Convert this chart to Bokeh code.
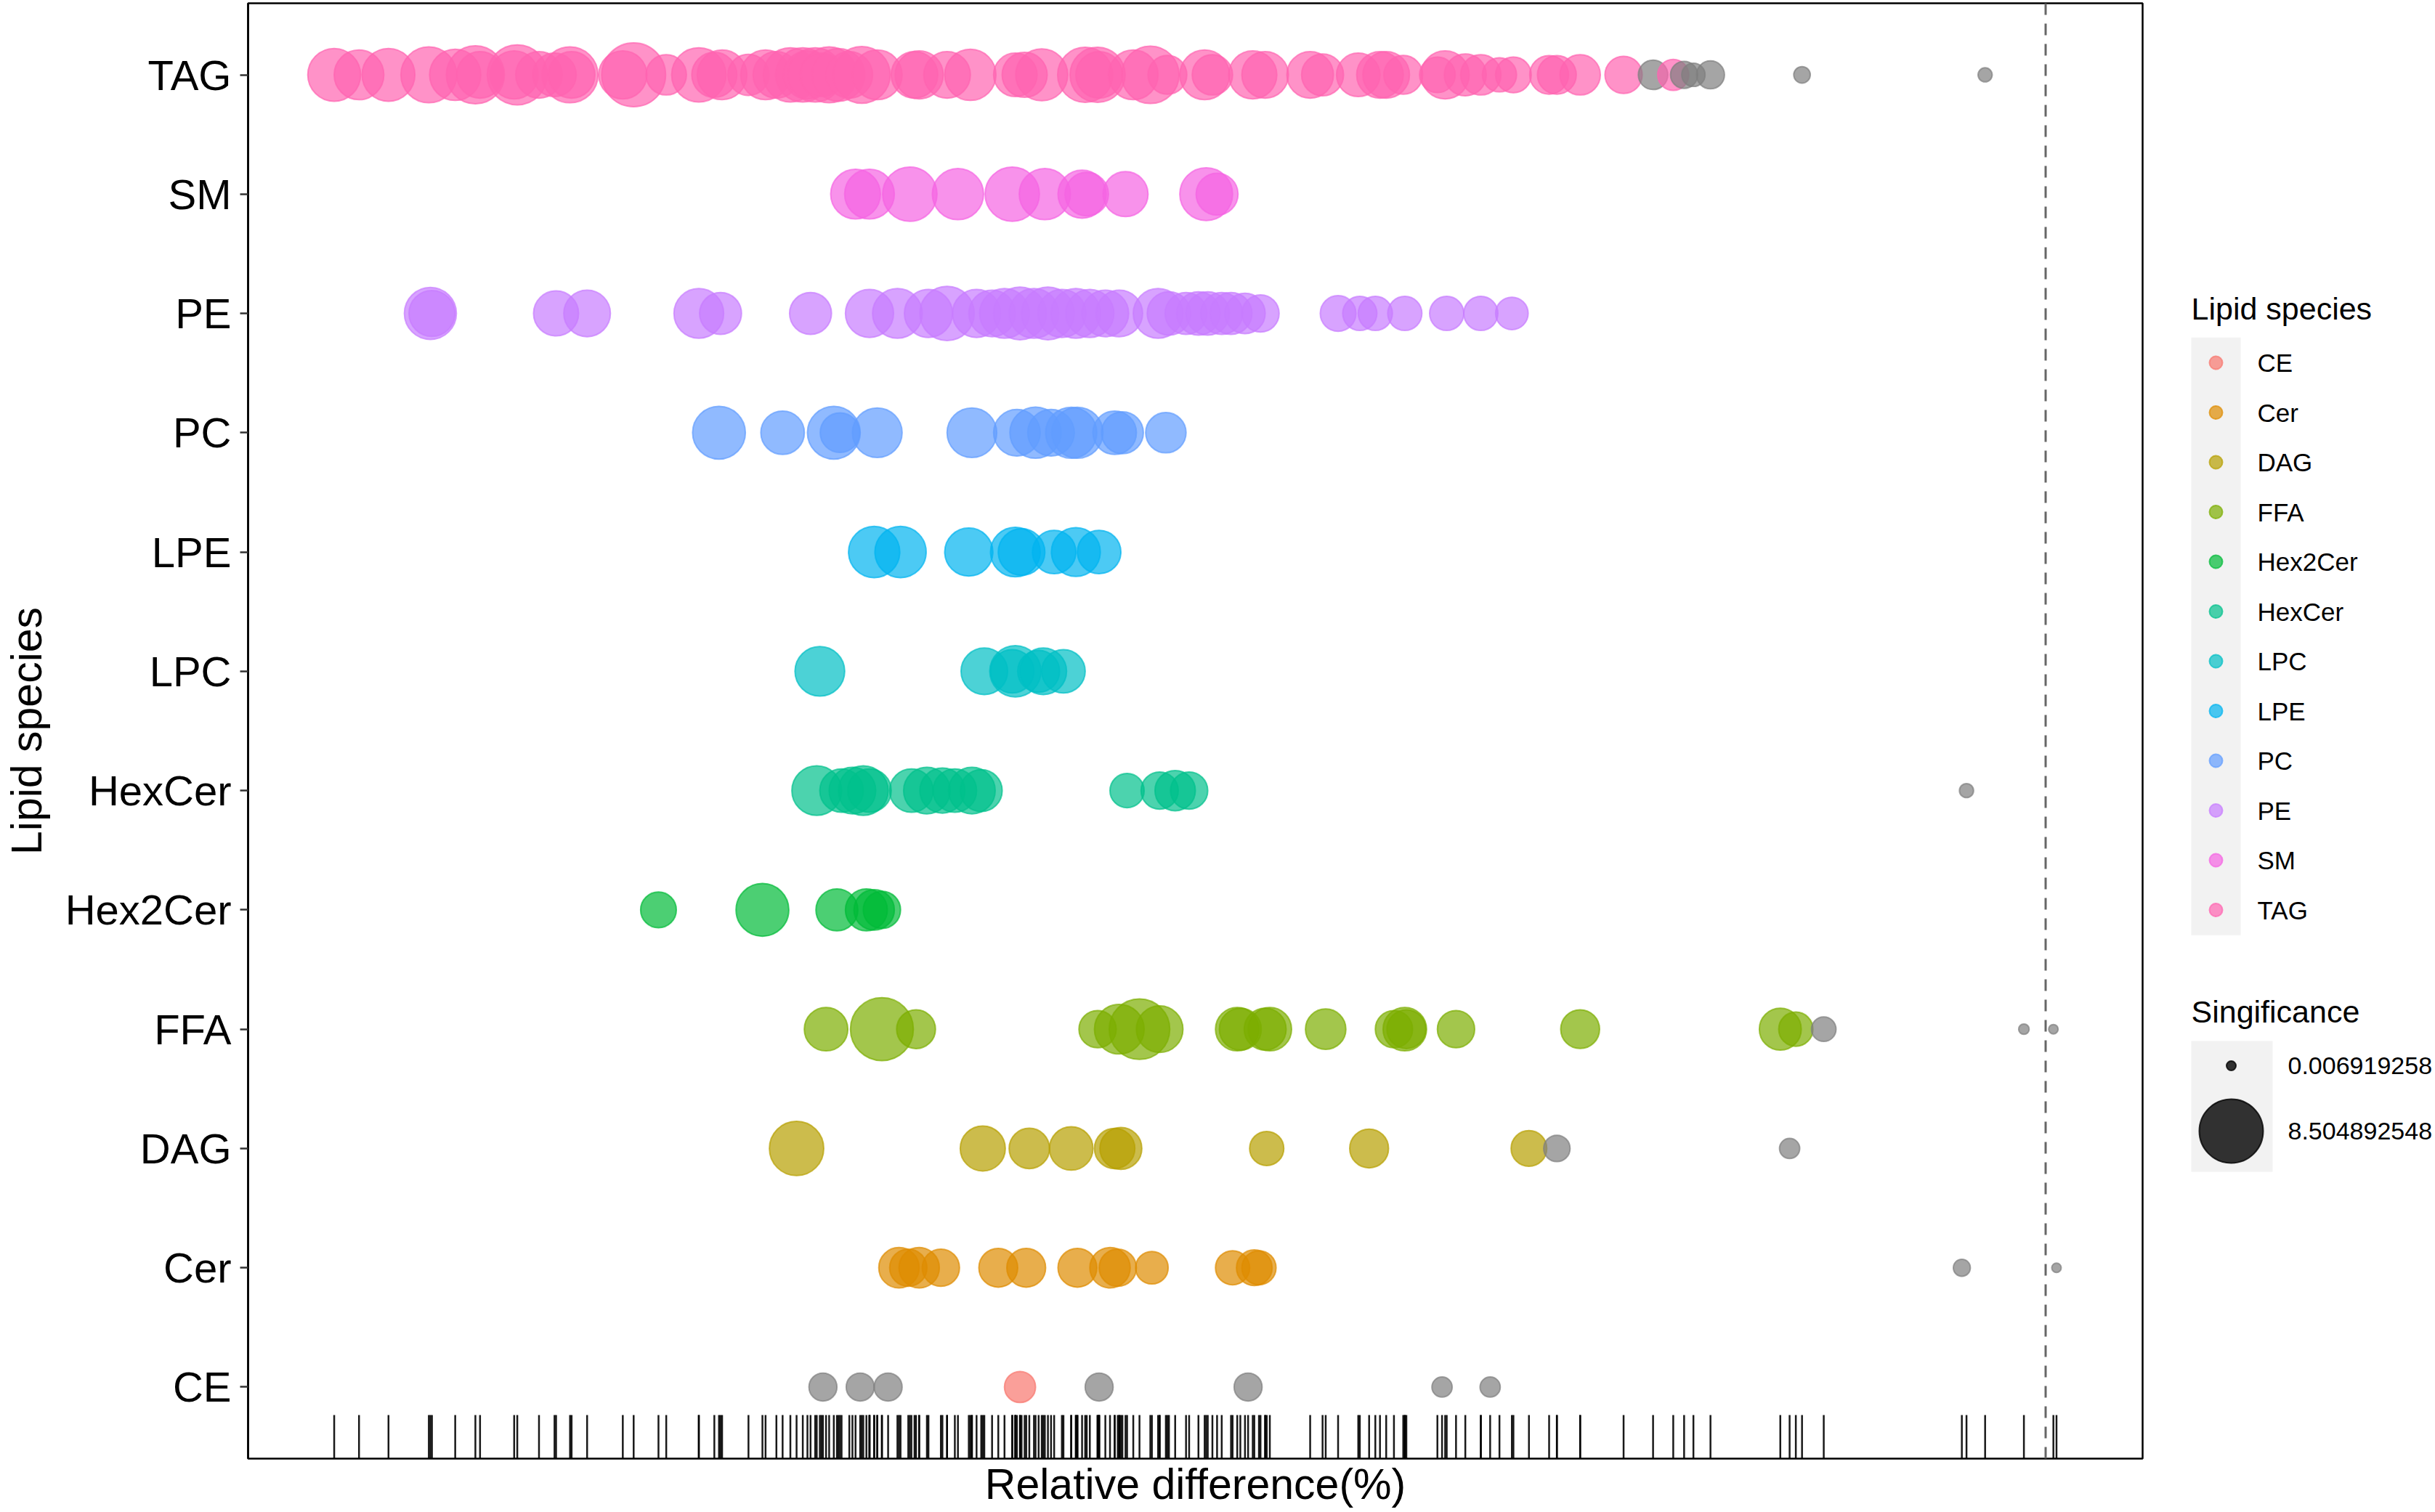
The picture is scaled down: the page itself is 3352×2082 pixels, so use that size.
import numpy as np
from bokeh.plotting import figure
from bokeh.models import Range1d, FixedTicker, ColumnDataSource, Span, Title
from bokeh.layouts import row
from bokeh.embed import file_html
from bokeh.resources import INLINE
from bokeh.core.properties import value

# ---------------- data ----------------
species = ["CE", "Cer", "DAG", "FFA", "Hex2Cer", "HexCer", "LPC", "LPE", "PC", "PE", "SM", "TAG"]
palette = ["#F8766D", "#DE8C00", "#B79F00", "#7CAE00", "#00BA38", "#00C08B",
           "#00BFC4", "#00B4F0", "#619CFF", "#C77CFF", "#F564E3", "#FF64B0"]

CE_diff = [-78.8, -76.4, -74.6, -66.1, -61.0, -51.4, -38.9, -35.8]
CE_sig = [0.99, 0.99, 0.99, 1.35, 0.99, 0.99, 0.34, 0.34]

Cer_diff = [-73.9, -73.3, -72.6, -71.2, -67.5, -65.7, -62.4, -60.3, -59.8, -57.6, -52.4, -51.0, -50.7, -5.4, 0.7]
Cer_sig = [2.75, 2.22, 2.75, 2.22, 2.48, 2.48, 2.48, 2.75, 2.22, 1.54, 1.76, 1.98, 1.76, 0.17, 0.0069]

DAG_diff = [-80.5, -68.5, -65.5, -62.8, -60.0, -59.6, -50.2, -43.6, -33.3, -31.5, -16.5]
DAG_sig = [5.78, 3.64, 2.75, 3.33, 2.75, 3.03, 1.76, 2.48, 1.98, 0.83, 0.34]

FFA_diff = [-78.6, -75.0, -72.8, -61.1, -59.7, -58.4, -57.1, -52.1, -51.9, -50.3, -50.0,
            -46.4, -42.0, -41.3, -41.2, -38.0, -30.0, -17.1, -16.1, -14.3, -1.4, 0.5]
FFA_sig = [3.33, 8.19, 2.48, 2.22, 4.65, 7.49, 3.96, 3.33, 3.03, 3.03, 3.33,
           2.75, 2.22, 3.33, 2.48, 2.22, 2.48, 3.03, 1.76, 0.66, 0.01, 0.0069]

Hex2Cer_diff = [-89.4, -82.7, -77.9, -76.0, -75.5, -75.0]
Hex2Cer_sig = [1.98, 5.39, 3.03, 3.03, 2.75, 2.22]

HexCer_diff = [-79.2, -77.6, -76.9, -76.2, -75.8, -73.1, -72.1, -71.1, -70.3, -69.2, -68.6,
               -59.2, -57.1, -56.1, -55.2, -5.1]
HexCer_sig = [4.65, 3.33, 3.96, 4.65, 3.33, 3.33, 3.96, 3.64, 3.33, 3.96, 3.03,
              1.76, 2.22, 2.75, 2.22, 0.07]

LPC_diff = [-79.0, -68.4, -66.6, -66.4, -64.9, -64.6, -63.3]
LPC_sig = [4.65, 3.96, 3.33, 5.01, 3.03, 3.96, 3.33]

LPE_diff = [-75.5, -73.8, -69.4, -66.4, -66.0, -63.9, -62.5, -61.0]
LPE_sig = [5.01, 5.01, 4.30, 4.65, 3.96, 3.33, 4.47, 3.33]

PC_diff = [-85.5, -81.4, -78.1, -77.7, -75.3, -69.2, -66.3, -65.1, -64.1, -62.8, -62.4, -60.0, -59.5, -56.7]
PC_sig = [5.39, 3.33, 5.39, 2.61, 4.65, 4.65, 3.96, 5.01, 3.96, 5.01, 5.01, 3.33, 3.03, 2.75]

PE_diff = [-104.1, -104.0, -96.0, -94.0, -86.8, -85.4, -79.6, -75.8, -74.0, -72.0, -70.8,
           -68.9, -67.9, -67.1, -66.1, -65.2, -64.3, -63.4, -62.5, -61.6, -60.6, -59.7,
           -57.2, -56.5, -55.4, -54.6, -54.0, -53.1, -52.5, -51.6, -50.6, -45.6, -44.2,
           -43.2, -41.3, -38.6, -36.4, -34.4]
PE_sig = [5.20, 3.83, 3.64, 3.96, 4.65, 3.03, 3.03, 4.30, 4.65, 4.30, 5.78,
          4.30, 3.96, 4.65, 5.39, 4.65, 5.39, 4.30, 4.65, 4.30, 3.96, 3.96,
          4.65, 3.33, 3.03, 3.33, 3.33, 3.03, 3.03, 2.75, 2.22, 1.98, 1.76,
          1.76, 1.76, 1.76, 1.76, 1.54]

SM_diff = [-76.7, -75.8, -73.2, -70.1, -66.6, -64.5, -62.1, -61.8, -59.3, -54.1, -53.4]
SM_sig = [4.65, 4.65, 5.78, 5.01, 5.78, 5.01, 4.30, 3.33, 3.64, 5.39, 3.03]

TAG_diff = [-110.3, -108.7, -106.8, -104.2, -102.5, -101.2, -100.9, -98.7, -98.5, -97.1,
            -96.1, -95.1, -95.0, -91.7, -91.0, -88.9, -86.8, -85.8, -85.3, -83.6,
            -82.5, -81.8, -80.9, -80.1, -79.8, -79.3, -78.9, -78.4, -77.8, -77.1,
            -76.3, -75.3, -72.9, -72.6, -70.8, -69.3, -66.4, -65.8, -64.7, -61.9,
            -61.1, -61.0, -58.8, -57.7, -56.6, -54.2, -53.7, -51.1, -50.3, -47.4,
            -46.6, -44.3, -42.9, -42.5, -41.4, -39.2, -38.7, -37.4, -36.4, -35.2,
            -34.3, -32.0, -31.5, -30.0, -27.2, -25.3, -24.0, -23.3, -22.7, -21.6,
            -15.7, -3.9]
TAG_sig = [5.39, 4.65, 5.39, 6.19, 5.01, 6.78, 3.96, 4.30, 7.35, 3.96,
           3.33, 6.19, 3.96, 4.30, 8.50, 2.75, 5.78, 3.64, 4.65, 2.89,
           4.65, 3.96, 5.78, 5.78, 4.30, 5.78, 3.33, 6.19, 5.39, 3.96,
           6.44, 4.65, 3.96, 4.30, 3.96, 5.01, 3.33, 3.64, 5.20, 5.98,
           5.98, 3.96, 4.65, 6.61, 2.48, 4.65, 2.75, 4.30, 3.96, 3.96,
           3.03, 3.33, 3.96, 3.96, 2.48, 1.98, 4.30, 3.03, 2.75, 1.76,
           1.98, 2.48, 2.48, 2.75, 2.22, 1.16, 1.35, 0.91, 0.56, 0.99,
           0.15, 0.07]

diff_lists = [CE_diff, Cer_diff, DAG_diff, FFA_diff, Hex2Cer_diff, HexCer_diff,
              LPC_diff, LPE_diff, PC_diff, PE_diff, SM_diff, TAG_diff]
sig_lists = [CE_sig, Cer_sig, DAG_sig, FFA_sig, Hex2Cer_sig, HexCer_sig,
             LPC_sig, LPE_sig, PC_sig, PE_sig, SM_sig, TAG_sig]

SIG_MIN = 0.006919258
SIG_MAX = 8.504892548
SIG_CUTOFF = -np.log10(0.05)   # points below are not significant -> grey

# ---------------- styling / scales ----------------
FONT = "Liberation Sans"
D_MIN, D_MAX = 13.0, 88.0       # point diameter range in screen px
NS_COLOR = "#7F7F7F"


def diameter(v):
    v = np.asarray(v, dtype=float)
    t = np.clip((v - SIG_MIN) / (SIG_MAX - SIG_MIN), 0, 1)
    return D_MIN + (D_MAX - D_MIN) * np.sqrt(t)


xs, ys, sizes, colors = [], [], [], []
for i, (name, dl, sl) in enumerate(zip(species, diff_lists, sig_lists)):
    assert len(dl) == len(sl), name
    for d, s in zip(dl, sl):
        xs.append(d)
        ys.append(i + 1)
        sizes.append(float(diameter(s)))
        colors.append(palette[i] if s >= SIG_CUTOFF else NS_COLOR)

src = ColumnDataSource(dict(x=xs, y=ys, size=sizes, color=colors))

all_x = np.array(xs)
xmin, xmax = all_x.min(), all_x.max()
xpad = 0.05 * (xmax - xmin)
x_lo, x_hi = xmin - xpad, xmax + xpad
y_lo, y_hi = 0.4, len(species) + 0.6

# layout (page px)
BORDER_L, FRAME_W, BORDER_R = 338, 2608, 10
BORDER_T, FRAME_H = 4, 2004
MAIN_W = BORDER_L + FRAME_W + BORDER_R

p = figure(frame_width=FRAME_W, frame_height=FRAME_H,
           x_range=Range1d(x_lo, x_hi), y_range=Range1d(y_lo, y_hi),
           x_axis_location=None, toolbar_location=None, output_backend="svg",
           min_border_left=BORDER_L, min_border_right=BORDER_R,
           min_border_top=BORDER_T, min_border_bottom=0)
p.grid.visible = False
p.outline_line_color = "black"
p.outline_line_width = 2.5
p.background_fill_color = "white"
p.border_fill_color = "white"

yax = p.yaxis[0]
yax.ticker = FixedTicker(ticks=list(range(1, len(species) + 1)))
yax.major_label_overrides = {i + 1: s for i, s in enumerate(species)}
yax.major_label_text_font = FONT
yax.major_label_text_font_size = "58px"
yax.major_label_text_color = "black"
yax.major_label_standoff = 12
yax.major_tick_out = 11
yax.major_tick_in = 0
yax.major_tick_line_width = 2.5
yax.major_tick_line_color = "#333333"
yax.minor_tick_line_color = None
yax.axis_line_color = "black"
yax.axis_line_width = 2.5
yax.axis_label = "Lipid species"
yax.axis_label_text_font = FONT
yax.axis_label_text_font_size = "59px"
yax.axis_label_text_font_style = "normal"
yax.axis_label_text_color = "black"
yax.axis_label_standoff = 17

# points
p.scatter("x", "y", source=src, size="size", marker="circle",
          fill_color="color", line_color="color", fill_alpha=0.7, line_alpha=0.7, line_width=2)

# rug (all observations)
rug_len = 0.03 * (y_hi - y_lo)
p.segment(x0=all_x, y0=[y_lo] * len(all_x), x1=all_x, y1=[y_lo + rug_len] * len(all_x),
          line_color="black", line_alpha=0.9, line_width=2.5)

# reference line at zero
p.add_layout(Span(location=0, dimension="height", line_color="#666666",
                  line_width=3, line_dash="16 12"))

# x title below the panel
p.add_layout(Title(text="Relative difference(%)", align="center", standoff=0,
                   text_font=FONT, text_font_size="59px", text_font_style="normal",
                   text_color="black"), "below")

# ---------------- legend panel (coordinates = page px) ----------------
LG_W = 3352 - MAIN_W
lg = figure(frame_width=LG_W, frame_height=FRAME_H,
            x_range=Range1d(MAIN_W, MAIN_W + LG_W),
            y_range=Range1d(BORDER_T + FRAME_H, BORDER_T),
            toolbar_location=None, output_backend="svg",
            min_border_left=0, min_border_right=0, min_border_top=BORDER_T, min_border_bottom=0,
            x_axis_location=None, y_axis_location=None)
lg.grid.visible = False
lg.outline_line_color = None
lg.background_fill_color = "white"
lg.border_fill_color = "white"

KEY_L, KEY_W = 3013, 68
lg.text(x=[KEY_L], y=[424], text=["Lipid species"], text_font=value(FONT),
        text_font_size="43px", text_baseline="middle", text_align="left", text_color="black")
key_y0, key_step = 499.0, 68.5
n = len(species)
lg.quad(left=[KEY_L], right=[KEY_L + KEY_W], top=[key_y0 - key_step / 2 - 0.5],
        bottom=[key_y0 + key_step * (n - 0.5) + 0.5], fill_color="#F2F2F2", line_color=None)
key_ys = [key_y0 + key_step * i for i in range(n)]
lg.scatter(x=[KEY_L + KEY_W / 2] * n, y=key_ys, size=18, marker="circle",
           fill_color=palette, line_color=palette, fill_alpha=0.7, line_alpha=0.7, line_width=2)
lg.text(x=[3104] * n, y=key_ys, text=species, text_font=value(FONT), text_font_size="35px",
        text_baseline="middle", text_align="left", text_color="black")

lg.text(x=[KEY_L], y=[1392], text=["Singificance"], text_font=value(FONT),
        text_font_size="43px", text_baseline="middle", text_align="left", text_color="black")
size_vals = [SIG_MIN, SIG_MAX]
size_ys = [1467, 1557]
lg.quad(left=[KEY_L], right=[KEY_L + 112], top=[1433], bottom=[1613],
        fill_color="#F2F2F2", line_color=None)
lg.scatter(x=[KEY_L + 55] * 2, y=size_ys, size=list(diameter(size_vals)), marker="circle",
           fill_color="black", line_color="black", fill_alpha=0.8, line_alpha=0.8, line_width=2)
lg.text(x=[3146] * 2, y=size_ys, text=[f"{v:.9f}" for v in size_vals], text_font=value(FONT),
        text_font_size="34px", text_baseline="middle", text_align="left", text_color="black")

layout = row(p, lg)
open("out.html", "w").write(file_html(layout, INLINE))
